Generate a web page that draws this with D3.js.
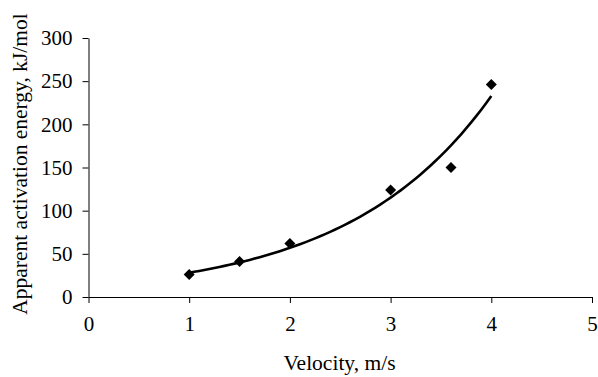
<!DOCTYPE html>
<html>
<head>
<meta charset="utf-8">
<script src="https://cdn.jsdelivr.net/npm/d3@7"></script>
<style>
  html, body { margin: 0; padding: 0; background: #fff; }
  svg { display: block; }
  svg text { font-family: "Liberation Serif", "Times New Roman", serif; font-size: 21px; fill: #000; }
  svg text.title { font-size: 21.5px; }
</style>
</head>
<body>
<div id="app"></div>
<script>
// Measured points
const velocity = [1, 1.5, 2, 3, 3.6, 4];
const energy = [26, 41, 62, 124, 150, 246];
const xTicks = [0, 1, 2, 3, 4, 5];
const yTicks = [0, 50, 100, 150, 200, 250, 300];
const xTitle = "Velocity, m/s";
const yTitle = "Apparent activation energy, kJ/mol";

const width = 598, height = 377;
const m = { left: 88.5, right: 6, top: 38, bottom: 80 };

const svg = d3.select("#app").append("svg")
  .attr("width", width)
  .attr("height", height);

const x = d3.scaleLinear().domain([0, 5]).range([m.left, width - m.right]);
const y = d3.scaleLinear().domain([0, 300]).range([height - m.bottom, m.top]);

// exponential trendline (least squares on ln y), like Excel's
function expFit(xs, ys) {
  const ly = ys.map(Math.log);
  const mx = d3.mean(xs), my = d3.mean(ly);
  let sxy = 0, sxx = 0;
  xs.forEach((v, i) => { sxy += (v - mx) * (ly[i] - my); sxx += (v - mx) ** 2; });
  const b = sxy / sxx;
  const a = Math.exp(my - b * mx);
  return v => a * Math.exp(b * v);
}
const fit = expFit(velocity, energy);
const [x0, x1] = d3.extent(velocity);
const trend = d3.range(x0, x1 + 1e-9, (x1 - x0) / 60).map(v => [v, fit(v)]);

// axes
const xAxis = svg.append("g")
  .attr("transform", `translate(0,${y(0)})`)
  .call(d3.axisBottom(x).tickValues(xTicks).tickFormat(d3.format("d"))
    .tickSize(6).tickPadding(13).tickSizeOuter(0));
const yAxis = svg.append("g")
  .attr("transform", `translate(${x(0)},0)`)
  .call(d3.axisLeft(y).tickValues(yTicks).tickFormat(d3.format("d"))
    .tickSize(6).tickPadding(10).tickSizeOuter(0));

[xAxis, yAxis].forEach(g => {
  g.attr("font-family", null).attr("font-size", null);
  g.select(".domain").attr("stroke", "#000").attr("stroke-width", 1);
  g.selectAll(".tick line").attr("stroke", "#000");
});

// trend line
svg.append("path")
  .datum(trend)
  .attr("fill", "none")
  .attr("stroke", "#000")
  .attr("stroke-width", 2.6)
  .attr("d", d3.line().x(d => x(d[0])).y(d => y(d[1])));

// diamond markers
svg.append("g")
  .selectAll("path")
  .data(velocity.map((v, i) => [v, energy[i]]))
  .join("path")
    .attr("transform", d => `translate(${x(d[0])},${y(d[1])})`)
    .attr("d", "M0,-5.5L5.5,0L0,5.5L-5.5,0Z")
    .attr("fill", "#000");

// titles
svg.append("text")
  .attr("class", "title")
  .attr("x", 339.5)
  .attr("y", 370)
  .attr("text-anchor", "middle")
  .text(xTitle);

svg.append("text")
  .attr("class", "title")
  .attr("transform", "translate(27,164) rotate(-90)")
  .attr("text-anchor", "middle")
  .text(yTitle);
</script>
</body>
</html>
